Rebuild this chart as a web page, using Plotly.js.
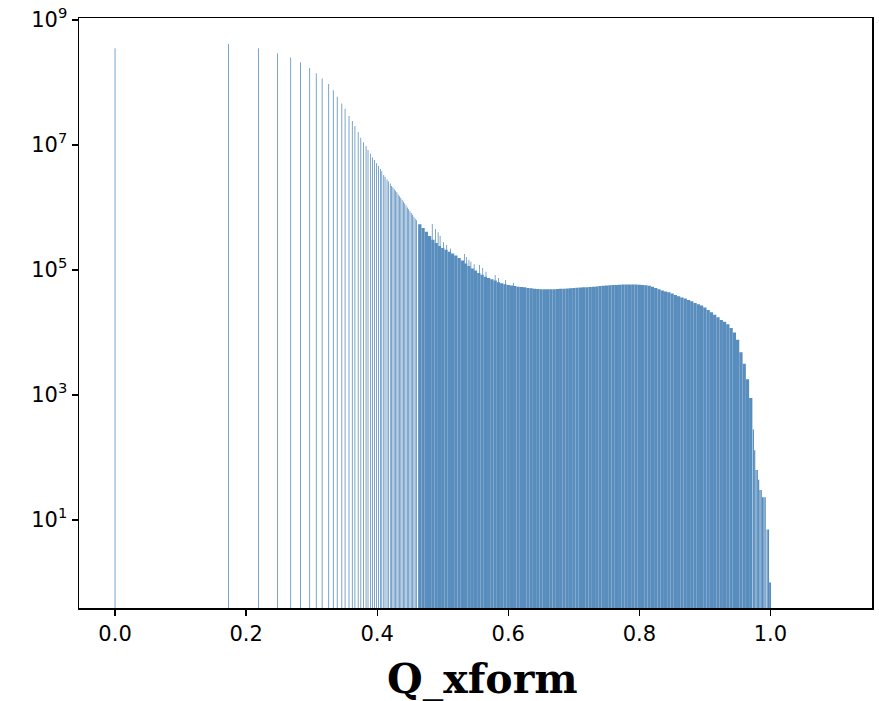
<!DOCTYPE html>
<html>
<head>
<meta charset="utf-8">
<script src="https://cdn.plot.ly/plotly-3.0.1.min.js"></script>
<style>
html,body{margin:0;padding:0;background:#fff;}
#chart{width:879px;height:701px;}
#chart .bars path{shape-rendering:geometricPrecision !important;}
</style>
</head>
<body>
<div id="chart"></div>
<script>
// Discrete spike bins (sparse low-Q region and noisy spikes above the envelope)
const spikeQ = [0.000, 0.173, 0.219, 0.248, 0.268, 0.283, 0.297, 0.307, 0.316, 0.326,
  0.333, 0.339, 0.346, 0.351, 0.357, 0.362, 0.366, 0.371, 0.375, 0.379,
  0.383, 0.386, 0.390, 0.393, 0.396, 0.399, 0.402, 0.405, 0.407, 0.410,
  0.412, 0.415, 0.417, 0.420, 0.422, 0.424, 0.426, 0.428, 0.430, 0.432,
  0.434, 0.436, 0.438, 0.440, 0.442, 0.444, 0.446, 0.448, 0.450, 0.452,
  0.454, 0.456, 0.458, 0.460,
  0.484, 0.489, 0.493, 0.496, 0.501, 0.506, 0.512, 0.533, 0.536, 0.540,
  0.543, 0.548, 0.556, 0.561, 0.566, 0.580, 0.585, 0.596, 0.608];
const spikeCount = [3.5e8, 4.1e8, 3.5e8, 2.9e8, 2.5e8, 2.1e8, 1.7e8, 1.4e8, 1.15e8, 9.4e7,
  7.5e7, 5.9e7, 4.6e7, 3.8e7, 2.9e7, 2.4e7, 2.0e7, 1.6e7, 1.3e7, 1.1e7,
  9.6e6, 8.3e6, 7.2e6, 6.3e6, 5.75e6, 5.1e6, 4.6e6, 4.1e6, 3.8e6, 3.3e6,
  3.1e6, 2.8e6, 2.6e6, 2.4e6, 2.2e6, 2.1e6, 1.95e6, 1.85e6, 1.75e6, 1.6e6,
  1.5e6, 1.43e6, 1.32e6, 1.23e6, 1.15e6, 1.07e6, 1.0e6, 9.3e5, 8.7e5, 8.1e5,
  7.6e5, 7.1e5, 6.6e5, 6.2e5,
  5.4e5, 4.5e5, 4.0e5, 3.5e5, 2.8e5, 2.5e5, 2.2e5, 1.8e5, 1.6e5, 1.45e5,
  1.35e5, 1.23e5, 1.2e5, 1.07e5, 9.3e4, 8.3e4, 7.4e4, 6.9e4, 6.2e4];

// Dense, contiguous bins
const denseQ = [0.465, 0.470, 0.475, 0.480, 0.485, 0.490, 0.495, 0.500, 0.505, 0.510,
  0.515, 0.520, 0.525, 0.530, 0.535, 0.540, 0.545, 0.550, 0.555, 0.560,
  0.565, 0.570, 0.575, 0.580, 0.585, 0.590, 0.595, 0.600, 0.605, 0.610,
  0.615, 0.620, 0.625, 0.630, 0.635, 0.640, 0.645, 0.650, 0.655, 0.660,
  0.665, 0.670, 0.675, 0.680, 0.685, 0.690, 0.695, 0.700, 0.705, 0.710,
  0.715, 0.720, 0.725, 0.730, 0.735, 0.740, 0.745, 0.750, 0.755, 0.760,
  0.765, 0.770, 0.775, 0.780, 0.785, 0.790, 0.795, 0.800, 0.805, 0.810,
  0.815, 0.820, 0.825, 0.830, 0.835, 0.840, 0.845, 0.850, 0.855, 0.860,
  0.865, 0.870, 0.875, 0.880, 0.885, 0.890, 0.895, 0.900, 0.905, 0.910,
  0.915, 0.920, 0.925, 0.930, 0.935, 0.940, 0.945, 0.950, 0.955, 0.960,
  0.965, 0.970];
const denseCount = [537000, 468000, 407000, 347000, 302000, 269000, 240000, 224000, 209000, 195000,
  182000, 170000, 155000, 141000, 126000, 115000, 105000, 97700, 89100, 83200,
  77600, 74100, 70800, 67600, 63100, 61000, 58900, 57500, 56200, 55000,
  53700, 53100, 52500, 51300, 50700, 50100, 49500, 49000, 49000, 49000,
  49000, 49200, 49500, 49800, 50100, 50500, 50800, 51300, 51600, 52000,
  52500, 52800, 53300, 53700, 54300, 55000, 55600, 56200, 56900, 57100,
  57500, 57800, 58100, 58200, 58300, 58300, 58200, 57900, 57500, 56900,
  55600, 53700, 51300, 49000, 46800, 45200, 43700, 41700, 39800, 38000,
  36300, 34700, 33100, 31600, 29500, 28200, 26900, 25100, 22900, 20900,
  19100, 17400, 15800, 14800, 13500, 11700, 10000, 7590, 4790, 3160,
  1780, 891];

// Tail bins near Q = 1
const tailQ = [0.974, 0.976, 0.978, 0.980, 0.982, 0.984, 0.986, 0.988, 0.990, 0.992, 0.995, 0.997, 0.999, 1.000];
const tailCount = [280, 130, 63, 63, 44, 30, 30, 23, 23, 23, 7, 7, 1, 1];

const yTickVals = [1e1, 1e3, 1e5, 1e7, 1e9];
const yTickText = ['10<sup>1</sup>', '10<sup>3</sup>', '10<sup>5</sup>', '10<sup>7</sup>', '10<sup>9</sup>'];
const xTickVals = [0.0, 0.2, 0.4, 0.6, 0.8, 1.0];
const xTickText = ['0.0', '0.2', '0.4', '0.6', '0.8', '1.0'];
const xLabel = 'Q_xform';

const barColor = '#588dbd';

const traces = [
  {type: 'bar', x: denseQ, y: denseCount, width: 0.005,
   marker: {color: barColor, line: {width: 0}}},
  {type: 'bar', x: spikeQ, y: spikeCount, width: 0.0012,
   marker: {color: barColor, line: {width: 0}}},
  {type: 'bar', x: tailQ, y: tailCount, width: 0.0018,
   marker: {color: barColor, line: {width: 0}}}
];

const axisFont = {family: 'DejaVu Sans, sans-serif', size: 21, color: '#000'};

const layout = {
  width: 879, height: 701,
  margin: {l: 79, r: 7, t: 18, b: 93, pad: 0},
  paper_bgcolor: '#fff', plot_bgcolor: '#fff',
  showlegend: false,
  barmode: 'overlay',
  bargap: 0,
  xaxis: {
    range: [-0.055, 1.155],
    tickmode: 'array', tickvals: xTickVals, ticktext: xTickText,
    ticks: 'outside', ticklen: 6, tickwidth: 1.3, tickcolor: '#000',
    showline: true, linecolor: '#000', linewidth: 1.5, mirror: true,
    showgrid: false, zeroline: false,
    tickfont: axisFont,
    automargin: false
  },
  yaxis: {
    type: 'log',
    range: [-0.41, 9.03],
    tickmode: 'array', tickvals: yTickVals, ticktext: yTickText,
    ticks: 'outside', ticklen: 6, tickwidth: 1.3, tickcolor: '#000',
    showline: true, linecolor: '#000', linewidth: 1.5, mirror: true,
    showgrid: false, zeroline: false,
    tickfont: axisFont,
    automargin: false
  },
  annotations: [{
    text: xLabel, xref: 'paper', yref: 'paper', x: 0.5, y: 0,
    xanchor: 'center', yanchor: 'top', xshift: 7, yshift: -45,
    showarrow: false,
    font: {family: 'DejaVu Serif, serif', size: 41, color: '#000', weight: 'bold'}
  }]
};

Plotly.newPlot('chart', traces, layout, {displayModeBar: false, staticPlot: true});
</script>
</body>
</html>
